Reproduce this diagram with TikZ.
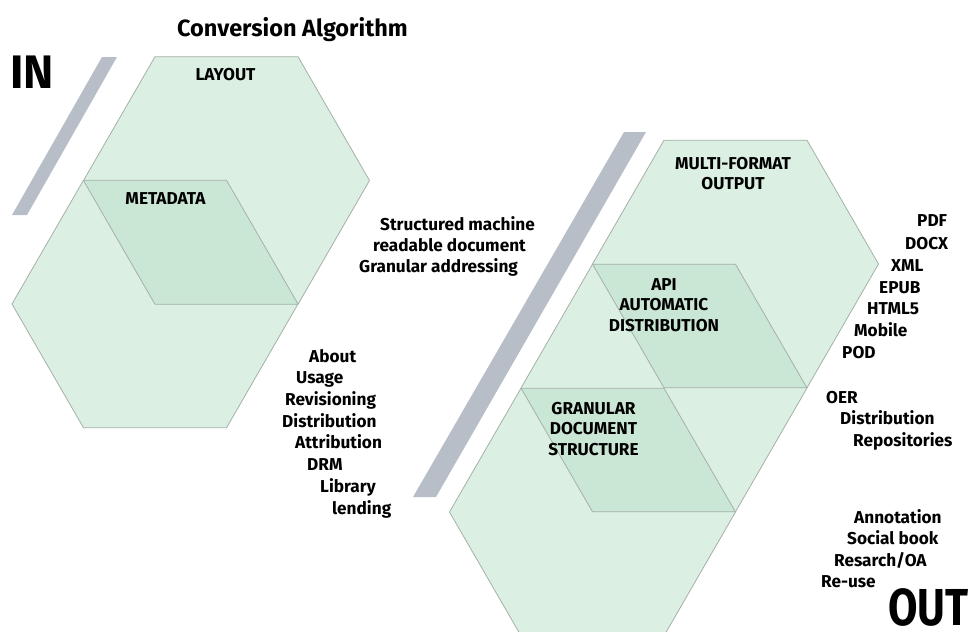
\documentclass[tikz,border=0pt]{standalone}
\usepackage{fontspec}
\setmainfont{Fira Sans}
\definecolor{hexgreen}{RGB}{185,223,199}
\definecolor{hexline}{RGB}{165,176,168}
\definecolor{bargray}{RGB}{184,190,199}
\begin{document}
\begin{tikzpicture}[x=1pt,y=-1pt,
  hexfill/.style={fill=hexgreen, fill opacity=0.5, draw=none},
  hexedge/.style={draw=hexline, line width=0.8pt, line join=round},
  bar/.style={fill=bargray, draw=none},
  lbl/.style={font=\fontsize{17.2}{20.5}\selectfont\bfseries, inner sep=0pt, text=black},
  item/.style={lbl, anchor=base west},
  block/.style={lbl, align=center, anchor=north},
  big/.style={inner sep=0pt, anchor=base west, font=\bfseries},
]
\useasboundingbox (0,0) rectangle (975,632);
\clip (0,0) rectangle (975,632);
% hexagon path
\def\hexpath{(-143,0) -- (-71.5,-123.8) -- (71.5,-123.8) -- (143,0) -- (71.5,123.8) -- (-71.5,123.8) -- cycle}
% gray bars
\fill[bar] (102,57) -- (117,57) -- (27,215) -- (12,215) -- cycle;
\fill[bar] (624,132) -- (646,132) -- (436,497) -- (413,497) -- cycle;
% fills
\foreach \c in {(226.5,180.5),(155,304),(735.5,264),(664,388),(592.5,512)}
  \path[hexfill, shift={\c}] \hexpath;
% outlines
\foreach \c in {(226.5,180.5),(155,304),(735.5,264),(664,388),(592.5,512)}
  \path[hexedge, shift={\c}] \hexpath;
% titles
\node[big, font=\fontsize{23.5}{27}\selectfont\bfseries] (title) at (177,36) {Conversion Algorithm};
\node[big, font=\fontsize{47}{50}\selectfont\bfseries] (in) at (10,88) {\scalebox{0.97}[1]{IN}};
\node[big, font=\fontsize{52}{55}\selectfont\bfseries] (out) at (888,625.5) {\scalebox{0.82}[1]{OUT}};
% hexagon labels
\node[lbl, anchor=base] (layout) at (225.5,80) {LAYOUT};
\node[lbl, anchor=base] (metadata) at (165.5,204) {METADATA};
\node[block] (multi) at (733,157) {MULTI-FORMAT\\OUTPUT};
\node[block] (api) at (664,278) {API\\AUTOMATIC\\DISTRIBUTION};
\node[block] (gran) at (593.5,402) {GRANULAR\\DOCUMENT\\STRUCTURE};
% middle text
\node[item] (s1) at (380,230) {Structured machine};
\node[item] (s2) at (373,251) {readable document};
\node[item] (s3) at (359,272) {Granular addressing};
% left list
\node[item] (l1) at (309,362) {About};
\node[item] (l2) at (296,383) {Usage};
\node[item] (l3) at (285,405) {Revisioning};
\node[item] (l4) at (282,427) {Distribution};
\node[item] (l5) at (295,448) {Attribution};
\node[item] (l6) at (307,470) {DRM};
\node[item] (l7) at (320,492) {Library};
\node[item] (l8) at (332,514) {lending};
% right list
\node[item] (r1) at (917,226) {PDF};
\node[item] (r2) at (905,249) {DOCX};
\node[item] (r3) at (891,271) {XML};
\node[item] (r4) at (879,293) {EPUB};
\node[item] (r5) at (867,314) {HTML5};
\node[item] (r6) at (854,336) {Mobile};
\node[item] (r7) at (842,358) {POD};
\node[item] (r8) at (826,403) {OER};
\node[item] (r9) at (840,424) {Distribution};
\node[item] (r10) at (853,446) {Repositories};
\node[item] (r11) at (854,523) {Annotation};
\node[item] (r12) at (847,544) {Social book};
\node[item] (r13) at (834,566) {Resarch/OA};
\node[item] (r14) at (821,587) {Re-use};
\end{tikzpicture}
\end{document}
